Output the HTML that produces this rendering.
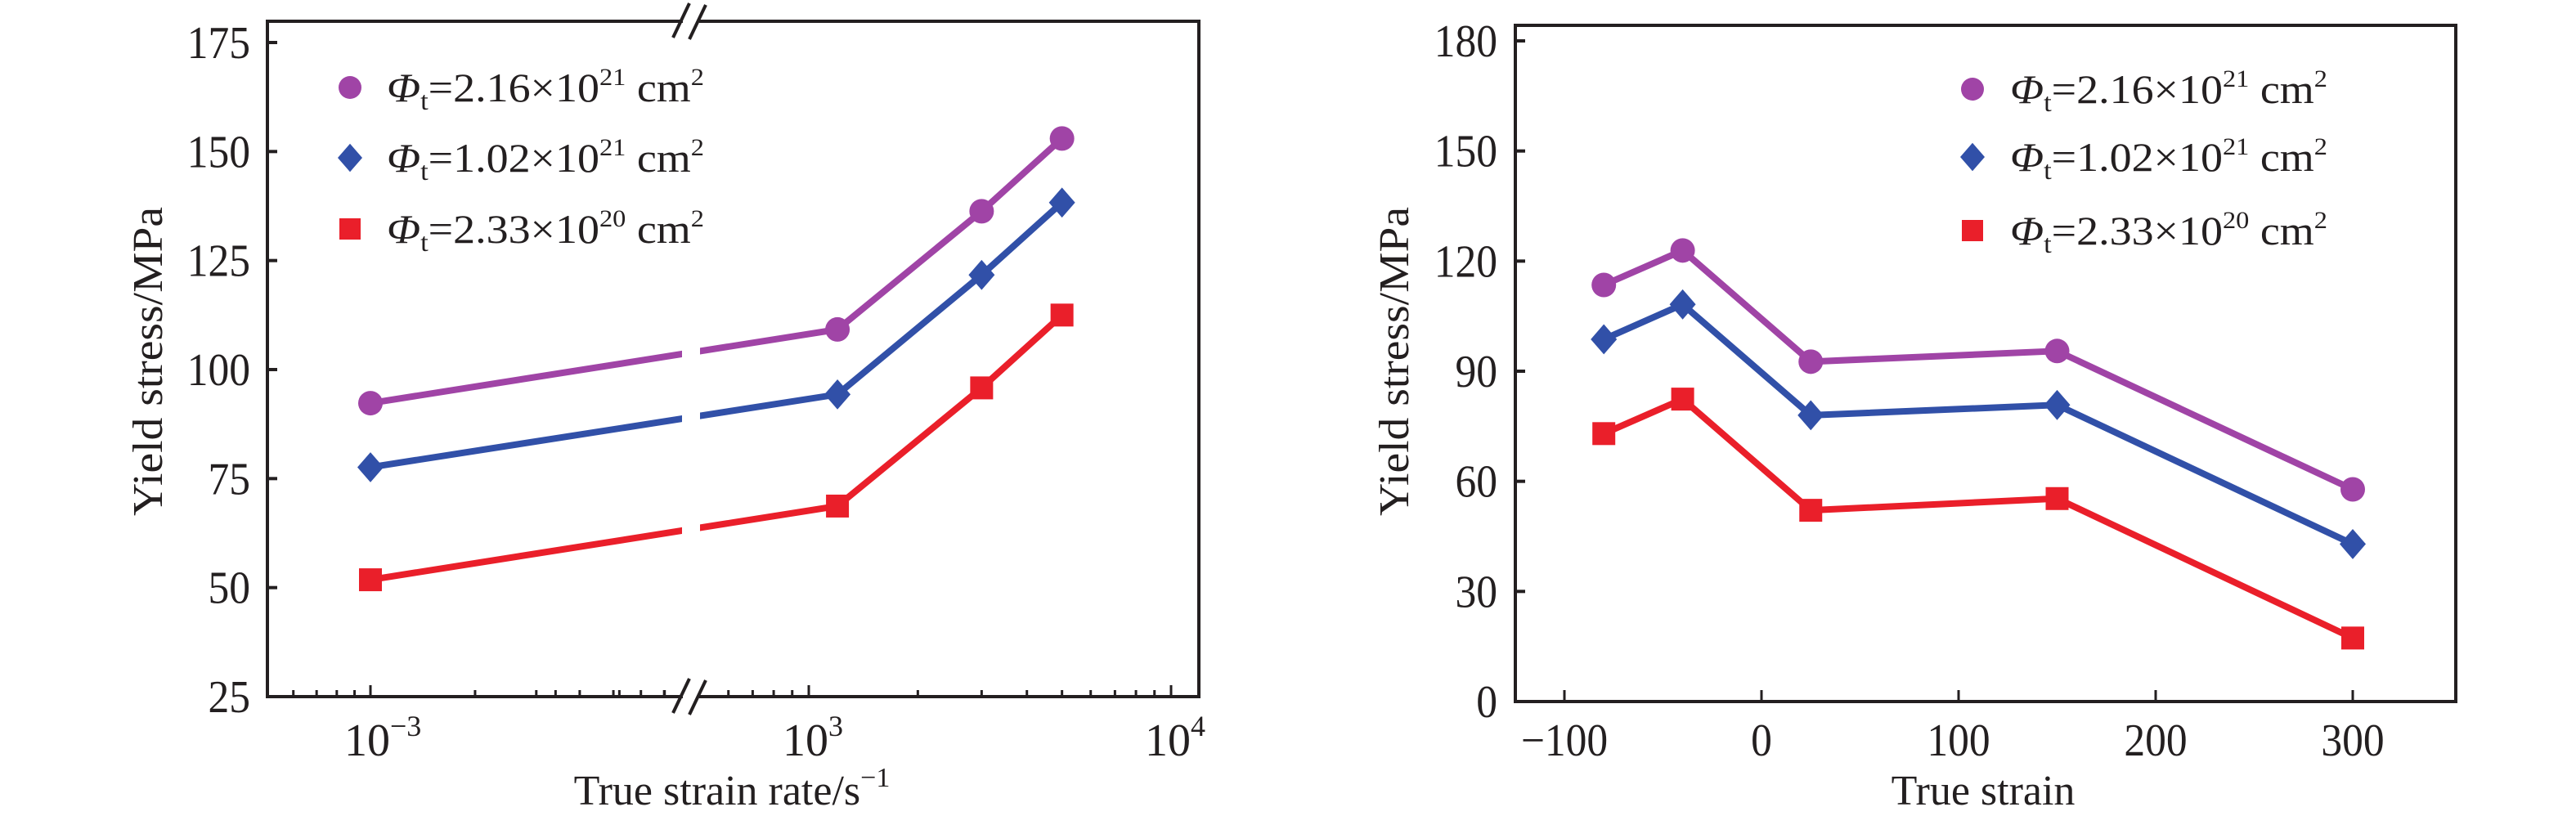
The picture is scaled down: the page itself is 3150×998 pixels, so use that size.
<!DOCTYPE html>
<html><head><meta charset="utf-8"><style>
body{margin:0;background:#fff}
svg{display:block;font-family:"Liberation Serif",serif}
</style></head><body>
<svg id="c" width="3150" height="998" viewBox="0 0 3150 998" xmlns="http://www.w3.org/2000/svg"></svg>
<script>
// ---- Left chart data ----
const rateX = [1e-3, 1.2e3, 3e3, 5e3];
const leftPurple = [92.3, 109.2, 136.3, 153];
const leftBlue = [77.6, 94.3, 121.7, 138.3];
const leftRed = [51.8, 68.7, 95.8, 112.5];
const leftYTicks = [25, 50, 75, 100, 125, 150, 175];
// ---- Right chart data ----
const strainX = [-80, -40, 25, 150, 300];
const rightPurple = [113.5, 122.9, 92.6, 95.5, 57.8];
const rightBlue = [98.7, 108.2, 78, 80.8, 42.9];
const rightRed = [73, 82.4, 52.1, 55.3, 17.3];
const rightYTicks = [0, 30, 60, 90, 120, 150, 180];
const rightXTicks = [-100, 0, 100, 200, 300];
const legendLabels = [["2.16","21"],["1.02","21"],["2.33","20"]];

const NS="http://www.w3.org/2000/svg";
const svg=document.getElementById('c');
function mk(tag,attrs,parent){const e=document.createElementNS(NS,tag);for(const k in attrs)e.setAttribute(k,attrs[k]);(parent||svg).appendChild(e);return e;}
const COL={p:'#a044a6',b:'#3150a8',r:'#ea1f2a'};

const L={x0:327,x1:1466,y0:852,y1:26,brk:845};
function lx(v){const lg=Math.log10(v);return lg<0?453+(lg+3)*425:989+(lg-3)*443;}
function ly(v){return 852-(v-25)*(800/150);}
const R={x0:1853,x1:3003,y0:858,y1:31};
function rx(v){return 2154+v*2.41;}
function ry(v){return 858-v*(808/180);}

function marker(g,type,x,y,s,color){
  let e;
  if(type==='c'){e=mk('circle',{cx:x,cy:y,r:s,fill:color},g);}
  else if(type==='d'){e=mk('polygon',{points:`${x},${y-s*1.15} ${x+s},${y} ${x},${y+s*1.15} ${x-s},${y}`,fill:color},g);}
  else {e=mk('rect',{x:x-s,y:y-s,width:2*s,height:2*s,fill:color},g);}
  return e;
}
function series(g,xs,ys,fx,fy,type,color,name){
  const sg=mk('g',{},g);
  
  
  mk('polyline',{points:xs.map((v,i)=>fx(v)+','+fy(ys[i])).join(' '),fill:'none',stroke:color,'stroke-width':8,'stroke-linejoin':'round'},sg);
  return sg;
}
function markers(g,xs,ys,fx,fy,type,color,name){
  xs.forEach((v,i)=>{const m=marker(g,type,fx(v),fy(ys[i]),type==='s'?14:(type==='d'?16:15),color);
    
    });
}
function txt(g,x,y,s,attrs){const t=mk('text',Object.assign({x:x,y:y,fill:'#231f20'},attrs||{}),g);t.textContent=s;return t;}
function tick(g,x,y,s,anchor){
  // condensed tall digits
  const t=mk('text',{x:0,y:0,fill:'#231f20','font-size':56,'text-anchor':anchor,transform:`translate(${x},${y}) scale(0.92,1)`},g);
  t.textContent=s;return t;
}

function legend(g,mx,tx,ys){
  const types=['c','d','s'],cols=[COL.p,COL.b,COL.r];
  legendLabels.forEach((lab,i)=>{
    const eg=mk('g',{},g);
    
    
    marker(eg,types[i],mx,ys[i],types[i]==='s'?13:(types[i]==='d'?15:14),cols[i]);
    const t=mk('text',{x:tx,y:ys[i]+17,'font-size':50,fill:'#231f20',textLength:388,lengthAdjust:'spacingAndGlyphs'},eg);
    t.innerHTML=`<tspan font-style="italic">Φ</tspan><tspan font-size="32" dy="10">t</tspan><tspan dy="-10">=${lab[0]}×10</tspan><tspan font-size="30" dy="-20">${lab[1]}</tspan><tspan dy="20"> cm</tspan><tspan font-size="30" dy="-20">2</tspan>`;
  });
}

// ===== LEFT CHART =====
const gl=mk('g',{});


series(gl,rateX,leftPurple,lx,ly,'c',COL.p,'series-2.16e21');
series(gl,rateX,leftBlue,lx,ly,'d',COL.b,'series-1.02e21');
series(gl,rateX,leftRed,lx,ly,'s',COL.r,'series-2.33e20');
mk('rect',{x:834,y:40,width:22,height:800,fill:'#fff'},gl);
markers(gl,rateX,leftPurple,lx,ly,'c',COL.p,'purple');
markers(gl,rateX,leftBlue,lx,ly,'d',COL.b,'blue');
markers(gl,rateX,leftRed,lx,ly,'s',COL.r,'red');
const la=mk('g',{},gl);


mk('rect',{x:L.x0,y:L.y1,width:L.x1-L.x0,height:L.y0-L.y1,fill:'none',stroke:'#231f20','stroke-width':4},la);
[L.y1,L.y0].forEach(y=>{
  mk('rect',{x:L.brk-10,y:y-4,width:20,height:8,fill:'#fff'},la);
  mk('line',{x1:L.brk-22,y1:y+20,x2:L.brk-2,y2:y-22,stroke:'#231f20','stroke-width':4},la);
  mk('line',{x1:L.brk-2,y1:y+22,x2:L.brk+18,y2:y-20,stroke:'#231f20','stroke-width':4},la);
});
leftYTicks.forEach(v=>{
  mk('line',{x1:L.x0,y1:ly(v),x2:L.x0+12,y2:ly(v),stroke:'#231f20','stroke-width':4},la);
  tick(la,306,ly(v)+19,String(v),'end');
});
const minorVals=[];
[-4,-3,2,3].forEach(d=>{for(let k=2;k<=9;k++)minorVals.push(k*Math.pow(10,d));});
minorVals.forEach(v=>{const x=lx(v);if(x>L.x0+5&&x<L.x1-5&&(x<826||x>866))
  mk('line',{x1:x,y1:L.y0,x2:x,y2:L.y0-8,stroke:'#231f20','stroke-width':3},la);});
[[1e-3,'−3'],[1e3,'3'],[1e4,'4']].forEach(([v,e])=>{
  const x=lx(v);
  mk('line',{x1:x,y1:L.y0,x2:x,y2:L.y0-14,stroke:'#231f20','stroke-width':3},la);
  const t=mk('text',{x:x-32,y:924,'font-size':56,fill:'#231f20'},la);
  t.innerHTML=`10<tspan font-size="36" dy="-24">${e}</tspan>`;
});
const lxt=mk('text',{x:895,y:984,'font-size':52,'text-anchor':'middle',fill:'#231f20'},gl);


lxt.innerHTML='True strain rate/s<tspan font-size="34" dy="-22">−1</tspan>';
const lyt=txt(gl,0,0,'Yield stress/MPa',{'font-size':52,'text-anchor':'middle',transform:'translate(198,442) rotate(-90)',textLength:378,lengthAdjust:'spacingAndGlyphs'});


legend(gl,428,473,[107,193,280]);

// ===== RIGHT CHART =====
const gr=mk('g',{});


series(gr,strainX,rightPurple,rx,ry,'c',COL.p,'series-2.16e21');
series(gr,strainX,rightBlue,rx,ry,'d',COL.b,'series-1.02e21');
series(gr,strainX,rightRed,rx,ry,'s',COL.r,'series-2.33e20');
markers(gr,strainX,rightPurple,rx,ry,'c',COL.p,'purple');
markers(gr,strainX,rightBlue,rx,ry,'d',COL.b,'blue');
markers(gr,strainX,rightRed,rx,ry,'s',COL.r,'red');
const ra=mk('g',{},gr);


mk('rect',{x:R.x0,y:R.y1,width:R.x1-R.x0,height:R.y0-R.y1,fill:'none',stroke:'#231f20','stroke-width':4},ra);
rightYTicks.forEach(v=>{
  mk('line',{x1:R.x0,y1:ry(v),x2:R.x0+12,y2:ry(v),stroke:'#231f20','stroke-width':4},ra);
  tick(ra,1831,ry(v)+19,String(v),'end');
});
rightXTicks.forEach(v=>{
  mk('line',{x1:rx(v),y1:R.y0,x2:rx(v),y2:R.y0-14,stroke:'#231f20','stroke-width':3},ra);
  tick(ra,rx(v),924,v<0?'−'+Math.abs(v):String(v),'middle');
});
const rxt=txt(gr,2425,984,'True strain',{'font-size':52,'text-anchor':'middle'});


const ryt=txt(gr,0,0,'Yield stress/MPa',{'font-size':52,'text-anchor':'middle',transform:'translate(1722,442) rotate(-90)',textLength:378,lengthAdjust:'spacingAndGlyphs'});


legend(gr,2412,2458,[109,192,282]);
</script>
</body></html>
